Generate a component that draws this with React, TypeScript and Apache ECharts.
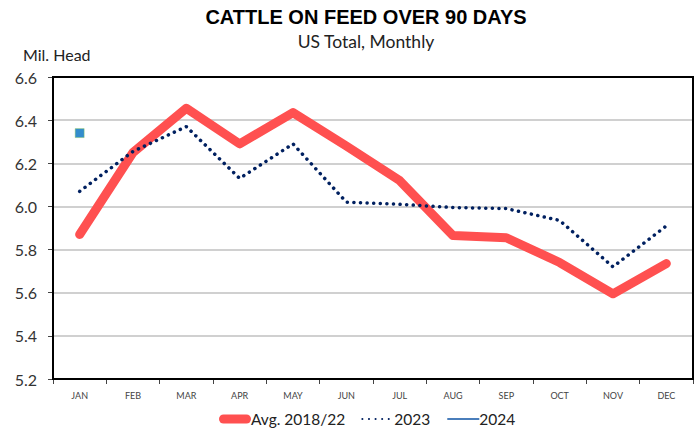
import React, { useEffect, useRef } from "react";
import * as echarts from "echarts";

const months = ["JAN", "FEB", "MAR", "APR", "MAY", "JUN", "JUL", "AUG", "SEP", "OCT", "NOV", "DEC"];
const avg1822 = [5.87, 6.25, 6.455, 6.29, 6.435, 6.28, 6.12, 5.865, 5.855, 5.74, 5.595, 5.735];
const y2023 = [6.07, 6.255, 6.37, 6.13, 6.29, 6.02, 6.01, 5.995, 5.99, 5.935, 5.72, 5.91];
const y2024 = [6.34];
const yMin = 5.2;
const yMax = 6.6;
const yStep = 0.2;

const GRID = { left: 53, top: 77, right: 6, bottom: 52 };

export default function App() {
  const ref = useRef<HTMLDivElement>(null);
  useEffect(() => {
    if (!ref.current) return;
    const chart = echarts.init(ref.current, null, { renderer: "svg" });
    const font = "Lato, 'Open Sans', sans-serif";
    chart.setOption({
      animation: false,
      backgroundColor: "#ffffff",
      graphic: [
        {
          type: "text",
          x: 366,
          y: 17,
          style: {
            text: "CATTLE ON FEED OVER 90 DAYS",
            font: "bold 20px 'Liberation Sans', Arial, sans-serif",
            fill: "#000",
            textAlign: "center",
            textVerticalAlign: "middle",
          },
        },
        {
          type: "text",
          x: 366,
          y: 41,
          style: {
            text: "US Total, Monthly",
            font: `17.5px ${font}`,
            fill: "#222",
            textAlign: "center",
            textVerticalAlign: "middle",
          },
        },
        {
          type: "text",
          x: 23,
          y: 54,
          style: { text: "Mil. Head", font: `16px ${font}`, fill: "#222", textVerticalAlign: "middle" },
        },
        {
          type: "rect",
          z: 10,
          silent: true,
          shape: { x: GRID.left, y: GRID.top, width: 699 - GRID.left - GRID.right, height: 431 - GRID.top - GRID.bottom },
          style: { fill: "none", stroke: "#000", lineWidth: 2 },
        },
      ],
      legend: {
        left: 214,
        top: 406,
        itemWidth: 32,
        itemHeight: 18,
        itemGap: 16,
        itemStyle: { opacity: 0 },
        textStyle: { fontFamily: font, fontSize: 15.5, color: "#222", padding: [0, 0, 0, -5] },
        data: [
          {
            name: "Avg. 2018/22",
            icon: "path://M4.5,0 H27.5 A4.5,4.5 0 0 1 27.5,9 H4.5 A4.5,4.5 0 0 1 4.5,0 Z",
            itemStyle: { opacity: 1, color: "#ff5050" },
          },
          "2023",
          "2024",
        ],
      },
      grid: { ...GRID, show: false },
      xAxis: {
        type: "category",
        data: months,
        boundaryGap: true,
        axisLine: { lineStyle: { color: "#000", width: 2 } },
        axisTick: { show: true, inside: false, length: 5, lineStyle: { color: "#444" } },
        axisLabel: { fontFamily: font, fontSize: 9, color: "#444", margin: 12 },
      },
      yAxis: {
        type: "value",
        min: yMin,
        max: yMax,
        interval: yStep,
        axisLine: { show: true, lineStyle: { color: "#000", width: 2 } },
        axisTick: { show: true, length: 5, lineStyle: { color: "#444" } },
        axisLabel: { fontFamily: font, fontSize: 16, color: "#333", formatter: (v: number) => v.toFixed(1), margin: 16 },
        splitLine: { showMinLine: false, showMaxLine: false, lineStyle: { color: "#d0d0d0", width: 2 } },
      },
      series: [
        {
          name: "Avg. 2018/22",
          type: "line",
          data: avg1822,
          symbol: "none",
          color: "#ff5050",
          lineStyle: { color: "#ff5050", width: 9, cap: "round", join: "round" },
          z: 2,
        },
        {
          name: "2023",
          type: "line",
          data: y2023,
          symbol: "none",
          color: "#002060",
          lineStyle: { color: "#002060", width: 3.5, type: [0.1, 6.5], cap: "round" },
          z: 3,
        },
        {
          name: "2024",
          type: "line",
          data: y2024,
          symbol: "none",
          color: "#4a7ebb",
          lineStyle: { color: "#4a7ebb", width: 3 },
          z: 4,
        },
        {
          name: "2024 point",
          type: "scatter",
          data: y2024,
          symbol: "rect",
          symbolSize: 9,
          itemStyle: { color: "#0070c0", borderColor: "#92d050", borderWidth: 0.5 },
          z: 5,
        },
      ],
    });
    return () => chart.dispose();
  }, []);
  return <div ref={ref} style={{ width: 699, height: 431, position: "absolute", left: 0, top: 0 }} />;
}
